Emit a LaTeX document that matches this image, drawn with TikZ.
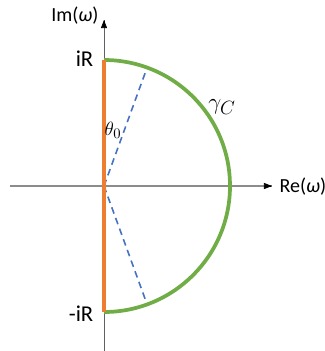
\documentclass[tikz,border=0pt]{standalone}
\usepackage{fontspec}
\setmainfont{Carlito}
\usetikzlibrary{arrows.meta,calc}
\definecolor{arcgreen}{RGB}{112,173,71}
\definecolor{segorange}{RGB}{237,125,49}
\definecolor{rayblue}{RGB}{68,114,196}
\definecolor{axisgray}{RGB}{140,140,140}
\newcommand{\radius}{126}

\begin{document}
\begin{tikzpicture}[x=0.75pt,y=0.75pt,font=\fontsize{15}{17}\selectfont]
  \useasboundingbox (-104,-165) rectangle (221,186);
  % axes
  \coordinate (O) at (0,0);
  \coordinate (xl) at (-94,0);
  \coordinate (xr) at (168,0);
  \coordinate (yb) at (0,-165);
  \coordinate (yt) at (0,166);
  \draw[axisgray,line width=0.8pt] (xl) -- (xr);
  \draw[axisgray!70!black,line width=0.7pt] (yb) -- (yt);
  \draw[-{Triangle[length=6pt,width=4.5pt]},line width=0.5pt] ($(xr)+(-1,0)$) -- (xr);
  \draw[-{Triangle[length=6pt,width=4.5pt]},line width=0.5pt] ($(yt)+(0,-1)$) -- (yt);
  \node[anchor=west] (re) at (171,-1) {Re(\textit{ω})};
  \node[anchor=south east,inner sep=1pt] (im) at (-4,160) {Im(\textit{ω})};
  % contour
  \coordinate (top) at (0,\radius);
  \coordinate (bot) at (0,-\radius);
  \coordinate (p1) at (70:\radius);
  \coordinate (p2) at (-70:\radius);
  \draw[rayblue,line width=1.2pt,dash pattern=on 5pt off 3.5pt] (O) -- (p1);
  \draw[rayblue,line width=1.2pt,dash pattern=on 5pt off 3.5pt] (O) -- (p2);
  \draw[arcgreen,line width=2.8pt] (top) arc (90:-90:\radius);
  \draw[segorange,line width=3pt] (top) -- (bot);
  \node[anchor=east,font=\fontsize{17}{19}\selectfont] (iR) at (-6,127) {iR};
  \node[anchor=east,font=\fontsize{17}{19}\selectfont] (miR) at (-6,-128) {-iR};
  \node (gam) at (118,79) {\fontsize{19}{21}\selectfont$\gamma_C$};
  \node (th) at (9,56) {\fontsize{15}{17}\selectfont$\theta_0$};
\end{tikzpicture}
\end{document}
